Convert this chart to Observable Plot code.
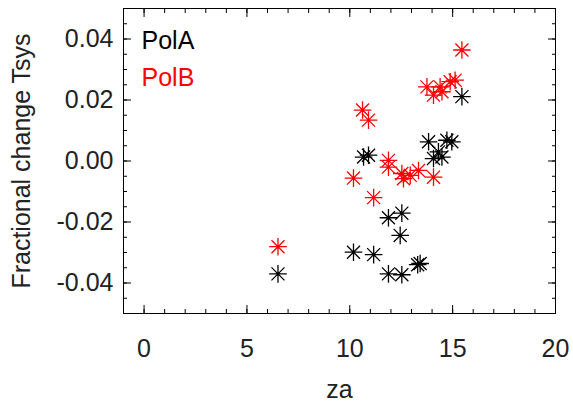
<!DOCTYPE html>
<html>
<head>
<meta charset="utf-8">
<script src="https://cdn.jsdelivr.net/npm/d3@7"></script>
<script src="https://cdn.jsdelivr.net/npm/@observablehq/plot@0.6"></script>
<style>
  html, body { margin: 0; padding: 0; background: white; }
</style>
</head>
<body>
<div id="chart"></div>
<script>
// Series names and colours
const seriesNames = ["PolA", "PolB"];
const seriesColors = ["#000000", "#ff0000"];

// PolA (black) zenith angle and fractional change
const polAZa   = [6.51, 10.18, 11.16, 11.88, 12.53, 13.30, 13.42, 12.45, 11.88, 12.53, 10.67, 10.91, 13.83, 14.07, 14.31, 14.48, 14.72, 14.96, 15.45];
const polAFrac = [-0.0370, -0.0299, -0.0307, -0.0370, -0.0373, -0.0340, -0.0336, -0.0244, -0.0186, -0.0171, 0.0013, 0.0019, 0.0063, 0.0008, 0.0030, 0.0013, 0.0068, 0.0063, 0.0211];

// PolB (red)
const polBZa   = [6.51, 10.18, 10.62, 10.91, 11.16, 11.88, 11.88, 12.53, 12.61, 12.94, 13.34, 14.07, 13.75, 14.07, 14.39, 14.48, 14.88, 15.12, 15.45];
const polBFrac = [-0.0281, -0.0056, 0.0167, 0.0134, -0.0120, 0.0002, -0.0020, -0.0041, -0.0058, -0.0047, -0.0031, -0.0053, 0.0243, 0.0216, 0.0243, 0.0227, 0.0260, 0.0265, 0.0364];

// Axes
const xLabel = "za";
const yLabel = "Fractional change Tsys";
const xDomain = [-1, 20];
const yDomain = [-0.05, 0.05];
const xTicks = [0, 5, 10, 15, 20];
const xMinorTicks = [-1, 0, 1, 2, 3, 4, 5, 6, 7, 8, 9, 10, 11, 12, 13, 14, 15, 16, 17, 18, 19, 20];
const yTicks = [-0.04, -0.02, 0, 0.02, 0.04];
const yMinorTicks = [-0.05, -0.045, -0.04, -0.035, -0.03, -0.025, -0.02, -0.015, -0.01, -0.005, 0, 0.005, 0.01, 0.015, 0.02, 0.025, 0.03, 0.035, 0.04, 0.045, 0.05];

const points = [
  ...polAZa.map((za, i) => ({za, frac: polAFrac[i], series: seriesNames[0]})),
  ...polBZa.map((za, i) => ({za, frac: polBFrac[i], series: seriesNames[1]}))
];

// IDL-style asterisk symbol
const asterisk = {
  draw(ctx, size) {
    const r = Math.sqrt(size / Math.PI);
    const d = r * 0.74;
    ctx.moveTo(-r, 0); ctx.lineTo(r, 0);
    ctx.moveTo(0, -r); ctx.lineTo(0, r);
    ctx.moveTo(-d, -d); ctx.lineTo(d, d);
    ctx.moveTo(-d, d); ctx.lineTo(d, -d);
  }
};

const font = "'Liberation Sans', Arial, Helvetica, sans-serif";
const textColor = "#222";
const fs = 25;

const chart = Plot.plot({
  width: 573,
  height: 406,
  marginLeft: 123,
  marginRight: 18,
  marginTop: 8,
  marginBottom: 93,
  x: {domain: xDomain},
  y: {domain: yDomain},
  color: {domain: seriesNames, range: seriesColors},
  style: {fontFamily: font, fontSize: fs + "px", background: "white", color: textColor},
  marks: [
    Plot.frame({stroke: "#000", strokeWidth: 1}),
    // bottom axis
    Plot.axisX(xTicks, {anchor: "bottom", tickSize: -8, tickPadding: 34, tickFormat: d => String(d), label: null, fontSize: fs, stroke: "#000", fill: textColor}),
    Plot.axisX(xMinorTicks, {anchor: "bottom", tickSize: -4, tickFormat: () => "", label: null, stroke: "#000"}),
    // top axis
    Plot.axisX(xTicks, {anchor: "top", tickSize: -8, tickFormat: () => "", label: null, stroke: "#000"}),
    Plot.axisX(xMinorTicks, {anchor: "top", tickSize: -4, tickFormat: () => "", label: null, stroke: "#000"}),
    // left axis
    Plot.axisY(yTicks, {anchor: "left", tickSize: -8, tickPadding: 18, tickFormat: d => d.toFixed(2), label: null, fontSize: fs, stroke: "#000", fill: textColor}),
    Plot.axisY(yMinorTicks, {anchor: "left", tickSize: -4, tickFormat: () => "", label: null, stroke: "#000"}),
    // right axis
    Plot.axisY(yTicks, {anchor: "right", tickSize: -8, tickFormat: () => "", label: null, stroke: "#000"}),
    Plot.axisY(yMinorTicks, {anchor: "right", tickSize: -4, tickFormat: () => "", label: null, stroke: "#000"}),
    // axis titles
    Plot.text([xLabel], {text: d => d, frameAnchor: "bottom", dy: 84, lineAnchor: "bottom", fontSize: fs, fill: textColor}),
    Plot.text([yLabel], {text: d => d, frameAnchor: "left", dx: -94, rotate: -90, textAnchor: "middle", lineAnchor: "bottom", fontSize: fs, fill: textColor}),
    // data
    Plot.dot(points, {x: "za", y: "frac", stroke: "series", fill: "none", symbol: asterisk, r: 8.8, strokeWidth: 1.3}),
    // legend
    Plot.text([seriesNames[0]], {text: d => d, frameAnchor: "top-left", dx: 18, dy: 40, lineAnchor: "bottom", textAnchor: "start", fontSize: fs, fill: seriesColors[0]}),
    Plot.text([seriesNames[1]], {text: d => d, frameAnchor: "top-left", dx: 18, dy: 77, lineAnchor: "bottom", textAnchor: "start", fontSize: fs, fill: seriesColors[1]})
  ]
});

document.getElementById("chart").appendChild(chart);
</script>
</body>
</html>
